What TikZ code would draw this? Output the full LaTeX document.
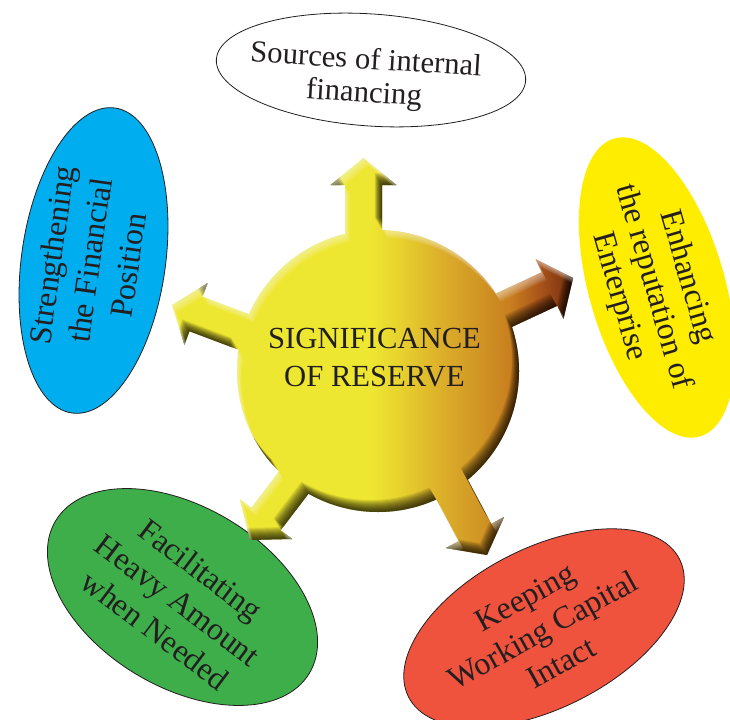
\documentclass[tikz,border=0pt]{standalone}
\usepackage{fontspec}
\setmainfont{Liberation Serif}
\usetikzlibrary{shapes.geometric}

\definecolor{inktext}{HTML}{231F20}
\definecolor{blobA}{HTML}{EEE731}
\definecolor{blobB}{HTML}{E7D22E}
\definecolor{blobC}{HTML}{DCB02A}
\definecolor{blobD}{HTML}{D19524}
\definecolor{blobE}{HTML}{C87E1F}
\definecolor{blobF}{HTML}{A9531A}
\definecolor{blobG}{HTML}{6E2A0C}
\definecolor{skyfill}{HTML}{00AEEF}
\definecolor{sunfill}{HTML}{FFED00}
\definecolor{leaffill}{HTML}{3DAE4A}
\definecolor{tomatofill}{HTML}{EF523D}

% left-to-right colour ramp of the central badge
\pgfdeclarehorizontalshading{blobshade}{100bp}{color(0bp)=(blobA); color(49.4bp)=(blobA);
  color(53bp)=(blobB); color(57.9bp)=(blobC); color(62.8bp)=(blobD); color(66.5bp)=(blobE);
  color(70.1bp)=(blobF); color(74.4bp)=(blobG); color(100bp)=(blobG)}

% one block arrow: head-base point, direction, shaft length behind it, head length
\newcommand\arrsw{18.5}
\newcommand\arrhw{33}
\newcommand\arrowpart[4]{(#1)
  +({-#3*cos(#2)+\arrsw*sin(#2)},{-#3*sin(#2)-\arrsw*cos(#2)})
  -- +({\arrsw*sin(#2)},{-\arrsw*cos(#2)})
  -- +({\arrhw*sin(#2)},{-\arrhw*cos(#2)})
  -- +({#4*cos(#2)},{#4*sin(#2)})
  -- +({-\arrhw*sin(#2)},{\arrhw*cos(#2)})
  -- +({-\arrsw*sin(#2)},{\arrsw*cos(#2)})
  -- +({-#3*cos(#2)-\arrsw*sin(#2)},{-#3*sin(#2)+\arrsw*cos(#2)}) -- cycle}

\newcommand\blobcircle{(378,348) circle[radius=141]}
\newcommand\arrowUp{\arrowpart{363.5,534}{90}{134}{27}}
\newcommand\arrowRight{\arrowpart{549.5,430}{25}{110}{26}}
\newcommand\arrowLeft{\arrowpart{196,405}{159.4}{110}{25.6}}
\newcommand\arrowDownL{\arrowpart{266,200}{232.7}{105}{26.4}}
\newcommand\arrowDownR{\arrowpart{475,186.5}{298.1}{110}{25.5}}
\newcommand\blobshape{\blobcircle \arrowUp \arrowRight \arrowLeft \arrowDownL \arrowDownR}

% inner bevel band: the badge minus a shifted copy of itself
\newcommand\bevelband[4]{%
  \begin{scope}
    \clip \blobshape;
    \begin{scope}[shift={({#1},{#2})}, even odd rule]
      \clip (-300,-300) rectangle (1100,1100) \blobcircle;
      \clip (-300,-300) rectangle (1100,1100) \arrowUp;
      \clip (-300,-300) rectangle (1100,1100) \arrowRight;
      \clip (-300,-300) rectangle (1100,1100) \arrowLeft;
      \clip (-300,-300) rectangle (1100,1100) \arrowDownL;
      \clip (-300,-300) rectangle (1100,1100) \arrowDownR;
      \fill[#3,opacity=#4] (-300,-300) rectangle (1100,1100);
    \end{scope}
  \end{scope}}

\tikzset{
  bubble/.style={ellipse, draw=inktext, line width=0.6pt, inner sep=0pt},
  bubbletext/.style={text=inktext, align=center, inner sep=0pt,
    font=\fontsize{24}{28.5}\selectfont},
}

\begin{document}
\begin{tikzpicture}[x=0.75pt,y=0.75pt]
  \fill[white] (0,0) rectangle (730,719);
  \useasboundingbox (0,0) rectangle (730,719);

  % outer bubbles
  \node[bubble, fill=white, minimum width=232.5pt, minimum height=84pt, rotate=-4]
    (srcE) at (371,649) {};
  \node[bubble, fill=skyfill, minimum width=231pt, minimum height=108pt, rotate=82]
    (strE) at (93.5,458.5) {};
  \node[ellipse, inner sep=0pt, fill=sunfill, minimum width=232.5pt, minimum height=102pt, rotate=-74]
    (repE) at (657,431.5) {};
  \node[bubble, fill=leaffill, minimum width=222pt, minimum height=135pt, rotate=-31]
    (facE) at (182.5,122) {};
  \node[bubble, fill=tomatofill, minimum width=228pt, minimum height=120pt, rotate=27]
    (keeE) at (544,91) {};

  % central badge with its five arrows
  \begin{scope}
    \clip \blobshape;
    \shade[shading=blobshade] (170,150) rectangle (580,575);
  \end{scope}
  \foreach \k in {1,...,12} {\bevelband{-0.6*\k}{1.0*\k}{black}{0.09}}
  \foreach \k in {1,...,8} {\bevelband{0.6*\k}{-1.0*\k}{white}{0.07}}

  % texts
  \node[bubbletext, font=\fontsize{23}{28.5}\selectfont] (core) at (374.5,361.5)
    {SIGNIFICANCE\\OF RESERVE};
  \node[bubbletext, font=\fontsize{23}{25}\selectfont, rotate=-3.5] (srcT) at (365,641)
    {Sources of internal\\financing};
  \node[bubbletext, font=\fontsize{24}{29}\selectfont, rotate=82] (strT) at (90,459)
    {Strengthening\\the Financial\\Position};
  \node[bubbletext, font=\fontsize{24}{26.5}\selectfont, rotate=-74] (repT) at (653,432)
    {Enhancing\\the reputation of\\Enterprise};
  \node[bubbletext, rotate=-37] (facT) at (178,119)
    {Facilitating\\Heavy Amount\\when Needed};
  \node[bubbletext, font=\fontsize{24}{28}\selectfont, rotate=29] (keeT) at (543,89)
    {Keeping\\Working Capital\\Intact};
\end{tikzpicture}
\end{document}
